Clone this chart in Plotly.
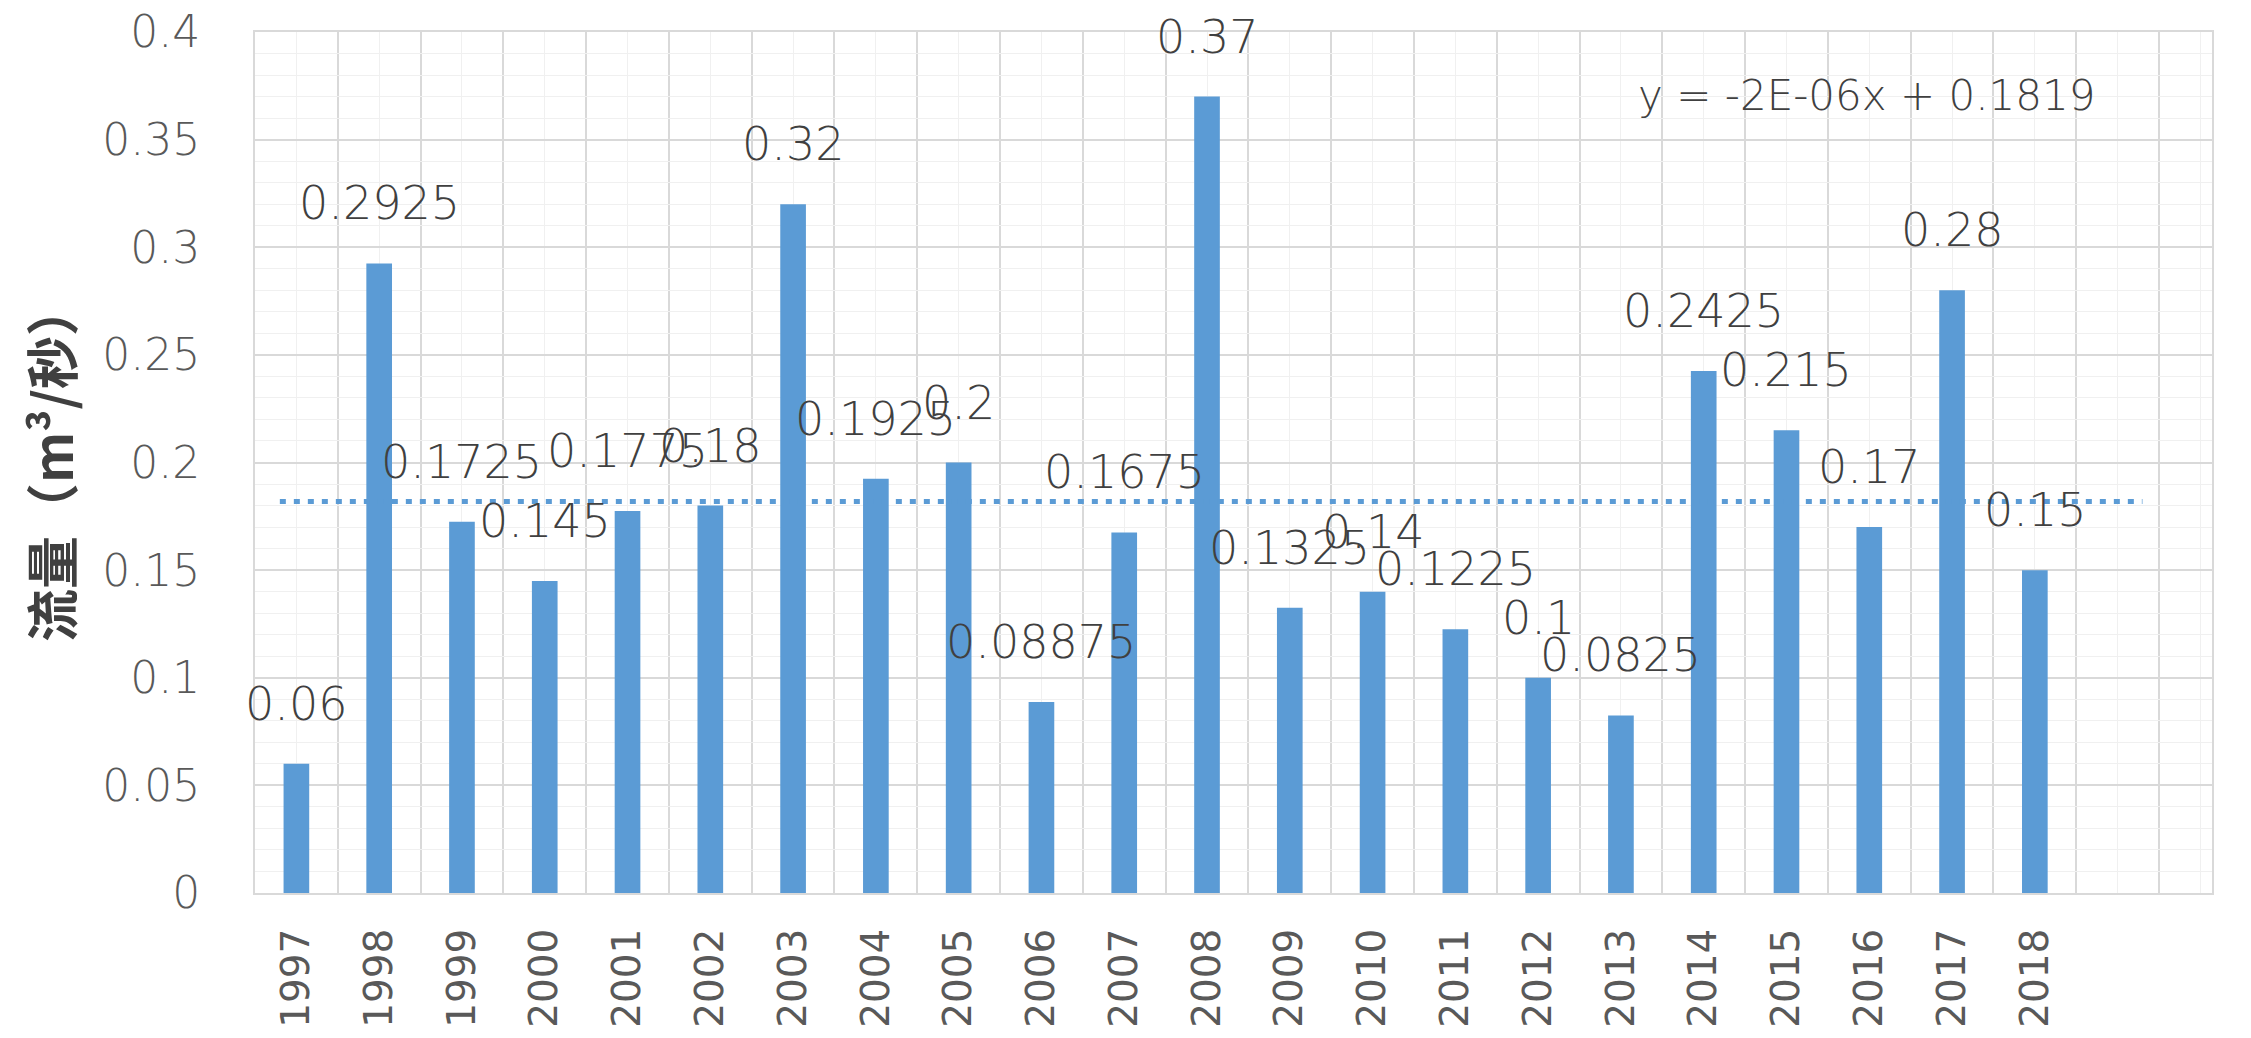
import plotly.graph_objects as go

# Annual flow series
years = [1997, 1998, 1999, 2000, 2001, 2002, 2003, 2004, 2005, 2006, 2007,
         2008, 2009, 2010, 2011, 2012, 2013, 2014, 2015, 2016, 2017, 2018]
flow = [0.06, 0.2925, 0.1725, 0.145, 0.1775, 0.18, 0.32, 0.1925, 0.2, 0.08875,
        0.1675, 0.37, 0.1325, 0.14, 0.1225, 0.1, 0.0825, 0.2425, 0.215, 0.17,
        0.28, 0.15]

# Category slots on the x axis (empty slots after the last year)
axis_years = years + [2019, 2020]
year_labels = [str(y) for y in years] + ["", ""]

# Value axis
y_ticks = [0, 0.05, 0.1, 0.15, 0.2, 0.25, 0.3, 0.35, 0.4]
y_tick_text = ["0", "0.05", "0.1", "0.15", "0.2", "0.25", "0.3", "0.35", "0.4"]
y_title = "流量（m³/秒）"

# Linear trend and the stretch of the axis it covers
trend_slope = -2e-06
trend_intercept = 0.1819
trend_label = "y = -2E-06x + 0.1819"
trend_span = [1996.8, 2019.3]

BAR_BLUE = "#5B9BD5"
TEXT_DARK = "#404040"
TEXT_MID = "#595959"
GRID_MAJOR = "#D9D9D9"
GRID_MINOR = "#F0F0F0"
NUM_FONT = "DejaVu Sans ExtraLight, DejaVu Sans, Lato"

trend_y = [trend_slope * (x - years[0] + 1) + trend_intercept for x in trend_span]

fig = go.Figure()

fig.add_trace(go.Bar(
    x=years, y=flow, width=0.31,
    marker=dict(color=BAR_BLUE, line=dict(width=0)),
    hoverinfo="x+y", showlegend=False,
))

fig.add_trace(go.Scatter(
    x=trend_span, y=trend_y, mode="lines",
    line=dict(color=BAR_BLUE, width=5, dash="6px,8px"),
    hoverinfo="skip", showlegend=False,
))

# Value labels above each column
for yr, v in zip(years, flow):
    fig.add_annotation(
        x=yr, y=v, xref="x", yref="y", text=f"{v:g}", showarrow=False,
        xanchor="center", yanchor="middle", yshift=60,
        font=dict(family=NUM_FONT, size=46, color=TEXT_DARK, weight=200),
    )

# Trend equation
fig.add_annotation(
    x=0.8237, y=0.9257, xref="paper", yref="paper", text=trend_label,
    showarrow=False, xanchor="center", yanchor="middle",
    font=dict(family=NUM_FONT, size=42, color=TEXT_DARK, weight=200),
)

# Axis title
fig.add_annotation(
    x=-0.105, y=0.5, xref="paper", yref="paper", text=y_title,
    showarrow=False, textangle=-90, xanchor="center", yanchor="middle",
    font=dict(family="Noto Sans CJK SC", size=53, color=TEXT_DARK, weight=700),
)

minor_x = [y - 0.5 for y in axis_years]

fig.update_xaxes(
    range=[years[0] - 0.5, 2020.14],
    tickmode="array", tickvals=axis_years, ticktext=year_labels,
    tickangle=-90, ticks="", ticklabelstandoff=18, automargin=False,
    tickfont=dict(family="DejaVu Sans", size=39, color=TEXT_MID),
    showgrid=True, gridcolor=GRID_MINOR, gridwidth=1,
    minor=dict(tickvals=minor_x, showgrid=True, gridcolor=GRID_MAJOR, gridwidth=1.5, ticks=""),
    showline=True, linecolor=GRID_MAJOR, linewidth=2, mirror=True,
    zeroline=False, fixedrange=True,
)

fig.update_yaxes(
    range=[0, 0.4],
    tickmode="array", tickvals=y_ticks, ticktext=y_tick_text,
    ticks="", ticklabelstandoff=44, automargin=False,
    tickfont=dict(family=NUM_FONT, size=44, color=TEXT_MID, weight=200),
    showgrid=True, gridcolor=GRID_MAJOR, gridwidth=1.5,
    minor=dict(dtick=0.01, showgrid=True, gridcolor=GRID_MINOR, gridwidth=1, ticks=""),
    showline=True, linecolor=GRID_MAJOR, linewidth=2, mirror=True,
    zeroline=False, fixedrange=True,
)

fig.update_layout(
    width=2251, height=1038,
    margin=dict(l=255, r=39, t=32, b=145),
    paper_bgcolor="white", plot_bgcolor="white",
    showlegend=False,
)

fig.write_html("out.html", config={"displayModeBar": False})
